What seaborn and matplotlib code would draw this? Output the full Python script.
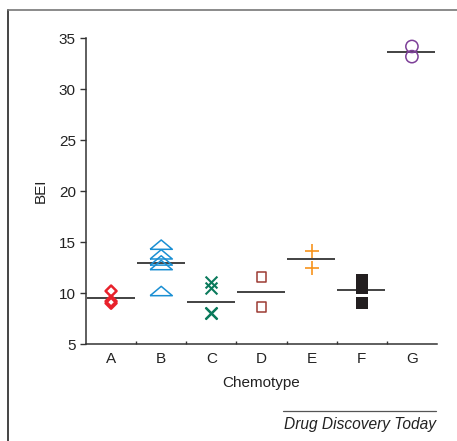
import numpy as np
import pandas as pd
import matplotlib
matplotlib.use("Agg")
import matplotlib.pyplot as plt
from matplotlib.lines import Line2D
import seaborn as sns

sns.set_style("white")
plt.rcParams["font.family"] = ["Liberation Sans", "DejaVu Sans"]

# ---- data ----
categories = ["A", "B", "C", "D", "E", "F", "G"]
bei_A = [10.2, 9.2, 9.0]
bei_B = [14.75, 13.8, 13.2, 12.75, 10.2]
bei_C = [11.1, 10.5, 8.0, 8.0, 8.0]
bei_D = [11.6, 8.65]
bei_E = [14.15, 12.45]
bei_F = [11.3, 10.5, 9.0]
bei_G = [34.2, 33.2]
yticks = [5, 10, 15, 20, 25, 30, 35]
x_label = "Chemotype"
y_label = "BEI"
credit = "Drug Discovery Today"

series = [bei_A, bei_B, bei_C, bei_D, bei_E, bei_F, bei_G]
df = pd.DataFrame({
    "Chemotype": [c for c, v in zip(categories, series) for _ in v],
    "BEI": [x for v in series for x in v],
})

# ---- styles ----
tri = [(-1.0, -0.42), (1.0, -0.42), (0.0, 0.42), (-1.0, -0.42)]
styles = {
    "A": dict(marker="D", ms=5.6, color="#e8212b", fill=False, lw=1.8),
    "B": dict(marker=tri, ms=16.0, color="#1a8fd3", fill=False, lw=1.1),
    "C": dict(marker="x", ms=8.5, color="#0b7a5c", fill=False, lw=1.5),
    "D": dict(marker="s", ms=7.0, color="#9c3b33", fill=False, lw=1.1),
    "E": dict(marker="+", ms=9.5, color="#f7941d", fill=False, lw=1.2),
    "F": dict(marker="s", ms=9.3, color="#231f20", fill=True, lw=0.0),
    "G": dict(marker="o", ms=8.8, color="#7d3f98", fill=False, lw=1.1),
}

fig = plt.figure(figsize=(4.57, 4.41), dpi=100)
ax = fig.add_axes([86 / 457, 1 - 344 / 441, 351 / 457, (344 - 38.3) / 441])

for cat in categories:
    st = styles[cat]
    sub = df[df["Chemotype"] == cat]
    sns.scatterplot(data=sub, x="Chemotype", y="BEI", marker=st["marker"],
                    s=st["ms"] ** 2, color=st["color"], linewidth=st["lw"],
                    legend=False, ax=ax, zorder=3)
    coll = ax.collections[-1]
    if st["marker"] in ("x", "+") or st["fill"]:
        coll.set_facecolor(st["color"])
        coll.set_edgecolor(st["color"])
    else:
        coll.set_facecolor("none")
        coll.set_edgecolor(st["color"])
    coll.set_linewidth(st["lw"])

# mean lines
means = df.groupby("Chemotype", sort=False)["BEI"].mean()
for i, cat in enumerate(categories):
    ax.hlines(means[cat], i - 0.49, i + 0.47, color="#222222", lw=1.2, zorder=2)

ax.set_xlim(-0.5, len(categories) - 0.5)
ax.set_ylim(5, 35)
ax.set_yticks(yticks)
ax.set_xticks(range(len(categories)))
ax.set_xticklabels(categories)
ax.set_xticks(np.arange(0.5, len(categories) - 0.5, 1), minor=True)

for s in ["top", "right"]:
    ax.spines[s].set_visible(False)
for s in ["left", "bottom"]:
    ax.spines[s].set_color("#333333")
    ax.spines[s].set_linewidth(1.1)

ax.tick_params(axis="y", which="major", direction="out", length=4.3, width=1,
               color="#333333", labelsize=11, pad=3, left=True, labelcolor="#222222")
ax.tick_params(axis="x", which="major", length=0, labelsize=11, pad=6, labelcolor="#222222")
ax.tick_params(axis="x", which="minor", direction="in", length=2.5, width=1,
               color="#333333", bottom=True)

ax.set_xlabel(x_label, fontsize=11, color="#222222", labelpad=7)
ax.set_ylabel(y_label, fontsize=11, color="#222222", labelpad=8)

# figure frame (left and top) and credit
fig.add_artist(Line2D([8 / 457, 8 / 457], [0, 1 - 10 / 441], transform=fig.transFigure,
                      color="#444444", lw=1.4))
fig.add_artist(Line2D([8 / 457, 1], [1 - 10 / 441, 1 - 10 / 441], transform=fig.transFigure,
                      color="#777777", lw=1.2))
fig.add_artist(Line2D([283 / 457, 436 / 457], [1 - 411 / 441, 1 - 411 / 441],
                      transform=fig.transFigure, color="#555555", lw=0.9))
fig.text(436 / 457, 1 - 424 / 441, credit, ha="right", va="center", fontsize=11.2,
         style="italic", color="#222222")

fig.savefig("out.png", dpi=100)
